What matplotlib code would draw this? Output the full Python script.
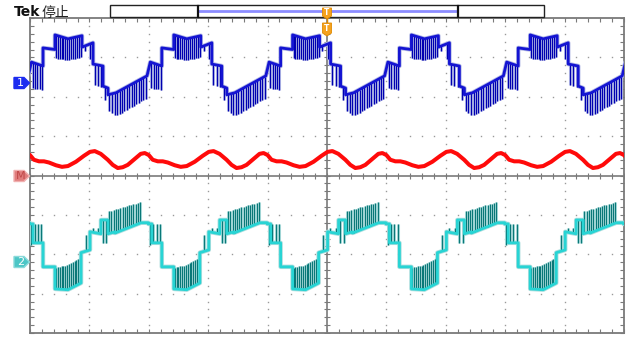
import numpy as np
import matplotlib
matplotlib.use("Agg")
import matplotlib.pyplot as plt
from matplotlib.patches import Polygon, Rectangle

W, H = 628, 337

# Horizontal: 10 ms/div over 10 divisions; vertical: 8 divisions
PERIOD = 20.0
N_PERIODS = range(-1, 6)

# Channel 1 (blue): segment table of one fundamental period
ch1_t0 = [0.25, 2.19, 4.21, 6.40, 8.75, 10.61, 12.29, 13.13, 14.48, 19.70]
ch1_t1 = [2.19, 4.21, 6.40, 8.75, 10.61, 12.29, 13.13, 14.48, 19.70, 20.25]
ch1_base0 = [2.88, 3.24, 3.57, 3.47, 3.26, 2.83, 2.27, 2.05, 2.10, 2.53]
ch1_base1 = [2.78, 3.20, 3.47, 3.55, 3.37, 2.78, 2.22, 2.10, 2.53, 2.88]
ch1_peak0 = [2.22, 3.24, 2.98, 2.93, 3.26, 2.30, 1.92, 1.67, 1.51, 2.53]
ch1_peak1 = [2.17, 3.20, 2.93, 3.01, 2.85, 2.25, 1.92, 1.51, 1.97, 2.88]
ch1_pulses = [5, 0, 7, 7, 2, 3, 1, 3, 13, 0]

# Channel 2 (cyan): segment table of one fundamental period
ch2_t0 = [-0.08, 0.51, 2.19, 4.21, 6.40, 8.59, 10.10, 11.95, 13.13, 14.31, 18.69]
ch2_t1 = [0.51, 2.19, 4.21, 6.40, 8.59, 10.10, 11.95, 13.13, 14.31, 18.69, 19.92]
ch2_base0 = [-1.23, -1.71, -2.32, -2.88, -2.90, -1.96, -1.43, -1.13, -1.48, -1.46, -1.20]
ch2_base1 = [-1.23, -1.71, -2.32, -2.90, -2.73, -1.89, -1.48, -1.13, -1.43, -1.20, -1.20]
ch2_peak0 = [-1.76, -1.23, -2.32, -2.35, -2.27, -1.50, -1.33, -1.71, -0.92, -0.87, -1.20]
ch2_peak1 = [-1.76, -1.23, -2.32, -2.27, -2.07, -1.50, -1.33, -1.71, -0.87, -0.67, -1.20]
ch2_pulses = [1, 3, 0, 7, 7, 1, 2, 2, 3, 12, 0]

# Math trace (red): one period, time offset from its main crest
RED_PHASE = 10.9
red_t = [0.0, 1.01, 2.19, 3.03, 3.87, 4.71, 5.56, 6.73, 7.74, 8.42, 9.09, 9.76,
         10.61, 11.45, 12.29, 13.47, 14.48, 15.49, 16.84, 18.18, 19.19, 20.0]
red_v = [0.62, 0.55, 0.40, 0.27, 0.19, 0.21, 0.27, 0.42, 0.55, 0.57, 0.52, 0.40,
         0.36, 0.36, 0.33, 0.26, 0.22, 0.24, 0.35, 0.50, 0.60, 0.62]

plt.rcParams['font.family'] = ['DejaVu Sans', 'Noto Sans CJK SC']

fig = plt.figure(figsize=(W / 100, H / 100), dpi=100)
fig.patch.set_facecolor('white')
ax = fig.add_axes([30 / W, 4 / H, 594 / W, 315 / H])
ax.set_xlim(0, 100)
ax.set_ylim(-4, 4)
ax.set_facecolor('white')

frame_c = '#7a7a7a'
for s in ax.spines.values():
    s.set_color(frame_c)
    s.set_linewidth(1.3)
ax.set_xticks(np.arange(0, 100.01, 2))
ax.set_yticks(np.arange(-4, 4.01, 0.2))
ax.tick_params(direction='in', length=3, width=0.8, colors=frame_c,
               top=True, right=True, labelbottom=False, labelleft=False)

# Dotted graticule
dot_c = '#9a9a9a'
for k in range(1, 10):
    if k == 5:
        continue
    yy = np.arange(-4, 4.01, 0.2)
    ax.plot(np.full_like(yy, k * 10), yy, ls='none', marker='s', ms=1.0,
            color=dot_c, mew=0, zorder=1)
for j in range(-3, 4):
    if j == 0:
        continue
    xx = np.arange(0, 100.01, 2)
    ax.plot(xx, np.full_like(xx, j), ls='none', marker='s', ms=1.0,
            color=dot_c, mew=0, zorder=1)

# Centre cross-hair with minor ticks
ax.axhline(0, color=frame_c, lw=1.2, zorder=1)
ax.axvline(50, color=frame_c, lw=1.2, zorder=1)
xx = np.arange(0, 100.01, 2)
ax.plot(xx, np.zeros_like(xx), ls='none', marker='|', ms=5, mew=0.8,
        color=frame_c, zorder=1)
yy = np.arange(-4, 4.01, 0.2)
ax.plot(np.full_like(yy, 50), yy, ls='none', marker='_', ms=5, mew=0.8,
        color=frame_c, zorder=1)


def draw_channel(t0s, t1s, b0s, b1s, p0s, p1s, npul, base_c, dark_c, halo_c):
    xs, ys = [], []
    px, pb, pp = [], [], []
    for k in N_PERIODS:
        off = k * PERIOD
        for t0, t1, b0, b1, p0, p1, n in zip(t0s, t1s, b0s, b1s, p0s, p1s, npul):
            xs += [t0 + off, t1 + off]
            ys += [b0, b1]
            if n > 0:
                f = (np.arange(n) + 0.5) / n
                px += list(t0 + off + (t1 - t0) * f)
                pb += list(b0 + (b1 - b0) * f)
                pp += list(p0 + (p1 - p0) * f)
    ax.vlines(px, pb, pp, colors=halo_c, lw=2.2, zorder=3)
    ax.plot(xs, ys, color=halo_c, lw=3.2, zorder=3, solid_joinstyle='round')
    ax.vlines(px, pb, pp, colors=dark_c, lw=0.85, zorder=4)
    ax.plot(xs, ys, color=base_c, lw=2.0, zorder=5, solid_joinstyle='round')


draw_channel(ch1_t0, ch1_t1, ch1_base0, ch1_base1, ch1_peak0, ch1_peak1,
             ch1_pulses, '#1414d2', '#0000b0', '#b4bae6')
draw_channel(ch2_t0, ch2_t1, ch2_base0, ch2_base1, ch2_peak0, ch2_peak1,
             ch2_pulses, '#28d4d4', '#0a7878', '#aedede')

rt, rv = [], []
for k in N_PERIODS:
    rt += [RED_PHASE + t + k * PERIOD for t in red_t]
    rv += red_v
ax.plot(rt, rv, color='#ff0a0a', lw=2.9, zorder=5, solid_joinstyle='round')


# ---- Figure decorations (header, record bar, markers) ----
def fx(p):
    return p / W


def fy(p):
    return 1 - p / H


fig.text(fx(14), fy(12.5), 'Tek', fontsize=10, fontweight='bold',
         va='center', ha='left', color='#111111')
fig.text(fx(42), fy(12.5), '停止', fontsize=10, va='center', ha='left',
         color='#222222', family=['Noto Sans CJK SC', 'DejaVu Sans'])

fig.add_artist(Rectangle((fx(110), fy(17)), (544 - 110) / W, 12 / H,
                         transform=fig.transFigure, fill=True, fc='white',
                         ec='#222222', lw=1.0))
fig.add_artist(plt.Line2D([fx(198), fx(457)], [fy(11), fy(11)],
                          transform=fig.transFigure, color='#8c8cff', lw=2.0))
for xb in (197.5, 458):
    fig.add_artist(plt.Line2D([fx(xb), fx(xb)], [fy(5.5), fy(16.5)],
                              transform=fig.transFigure, color='#111111',
                              lw=1.6))

# Trigger markers
for yc, hh in ((13, 5), (29, 6)):
    pts = [(fx(327 - 4.5), fy(yc - hh)), (fx(327 + 4.5), fy(yc - hh)),
           (fx(327 + 4.5), fy(yc + hh - 2)), (fx(327), fy(yc + hh + 1)),
           (fx(327 - 4.5), fy(yc + hh - 2))]
    fig.add_artist(Polygon(pts, closed=True, transform=fig.transFigure,
                           fc='#f5a21e', ec='#e08a00', lw=0.6, zorder=10))
    fig.text(fx(327), fy(yc - 0.5), 'T', fontsize=5.5, color='white',
             ha='center', va='center', fontweight='bold', zorder=11)
fig.add_artist(plt.Line2D([fx(327), fx(327)], [fy(18), fy(22)],
                          transform=fig.transFigure, color='#e08a00', lw=1.0))


def marker(yc, label, fc, ec, tc):
    pts = [(fx(14), fy(yc - 5.5)), (fx(24), fy(yc - 5.5)), (fx(29.5), fy(yc)),
           (fx(24), fy(yc + 5.5)), (fx(14), fy(yc + 5.5))]
    fig.add_artist(Polygon(pts, closed=True, transform=fig.transFigure,
                           fc=fc, ec=ec, lw=1.0, zorder=10))
    fig.text(fx(20.5), fy(yc), label, fontsize=8, color=tc, ha='center',
             va='center', zorder=11)


marker(83, '1', '#1c2cf0', '#1c2cf0', 'white')
marker(176, 'M', '#e07c7c', '#f0b0b0', '#c04848')
marker(262, '2', '#4cc6c6', '#8adada', 'white')

fig.savefig('out.png', dpi=100, facecolor='white')
